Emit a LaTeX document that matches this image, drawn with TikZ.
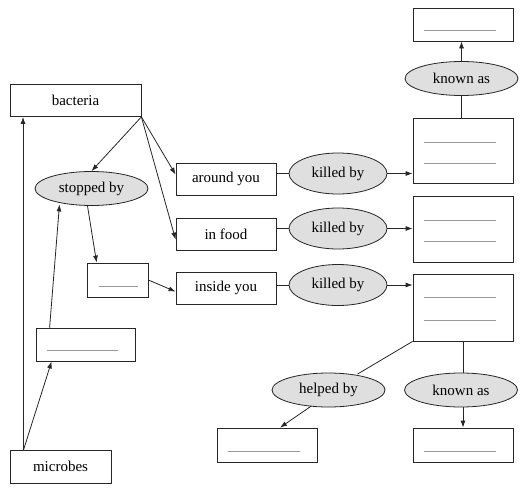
\documentclass[tikz,border=0pt]{standalone}
\usepackage{fontspec}
\setmainfont{Liberation Serif}
\usetikzlibrary{shapes.geometric,arrows.meta,calc}
\begin{document}
\begin{tikzpicture}[x=1pt,y=-1pt,
  font=\fontsize{15}{17}\selectfont,
  box/.style={draw=black!85,line width=0.8pt,rectangle,inner sep=0pt,minimum width=100pt,minimum height=33pt},
  oval/.style={draw=black!85,line width=0.8pt,ellipse,fill=gray!25,inner sep=0pt,minimum width=113pt,minimum height=34pt},
  conn/.style={line width=0.8pt,draw=black!85},
  arr/.style={conn,-{Latex[length=7pt,width=5pt]}},
  blank/.style={draw=gray!80,line width=0.7pt}]
\useasboundingbox (0,0) rectangle (528,488);
% nodes
\node[box,minimum width=131pt,minimum height=32pt] (bac) at (75.5,100.5) {bacteria};
\node[oval] (stop) at (91.5,188.5) {stopped by};
\node[box,minimum height=32pt] (around) at (226,179) {around you};
\node[box,minimum height=32pt] (food) at (226,234) {in food};
\node[box,minimum height=32pt] (inside) at (226,288) {inside you};
\node[oval,minimum width=98pt,minimum height=41pt] (k1) at (338,173.5) {killed by};
\node[oval,minimum width=98pt,minimum height=41pt] (k2) at (338,228.5) {killed by};
\node[oval,minimum width=98pt,minimum height=41pt] (k3) at (338,285) {killed by};
\node[box] (top) at (463,24.5) {};
\node[oval] (known1) at (461.5,78.5) {known as};
\node[box,minimum height=65pt] (big1) at (463,150.5) {};
\node[box,minimum height=66pt] (big2) at (463,229) {};
\node[box,minimum height=67pt] (big3) at (463,307.5) {};
\node[box,minimum width=61pt,minimum height=34pt] (small) at (117.5,280) {};
\node[box,minimum width=99pt,minimum height=33pt] (left) at (85.5,344.5) {};
\node[box,minimum width=101pt,minimum height=33pt] (mic) at (60.5,466.5) {microbes};
\node[oval] (help) at (328.5,390) {helped by};
\node[oval] (known2) at (461,390) {known as};
\node[box,minimum height=34pt] (bl) at (267,445) {};
\node[box,minimum height=34pt] (br) at (463,445) {};
% blank lines
\draw[blank] ($(top.north west)+(11,23)$) -- ($(top.north east)+(-17,23)$);
\draw[blank] ($(big1.north west)+(11,25)$) -- ($(big1.north east)+(-17,25)$);
\draw[blank] ($(big1.north west)+(11,46)$) -- ($(big1.north east)+(-17,46)$);
\draw[blank] ($(big2.north west)+(11,25)$) -- ($(big2.north east)+(-17,25)$);
\draw[blank] ($(big2.north west)+(11,46)$) -- ($(big2.north east)+(-17,46)$);
\draw[blank] ($(big3.north west)+(11,24)$) -- ($(big3.north east)+(-17,24)$);
\draw[blank] ($(big3.north west)+(11,47)$) -- ($(big3.north east)+(-17,47)$);
\draw[blank] ($(small.north west)+(12,24)$) -- ($(small.north east)+(-10,24)$);
\draw[blank] ($(left.north west)+(11,23)$) -- ($(left.north east)+(-17,23)$);
\draw[blank] ($(bl.north west)+(11,24)$) -- ($(bl.north east)+(-17,24)$);
\draw[blank] ($(br.north west)+(11,24)$) -- ($(br.north east)+(-17,24)$);
% connectors
\draw[arr] (bac.south east) -- (stop.north);
\draw[arr] (bac.south east) -- ($(around.north west)+(0,12)$);
\draw[arr] (bac.south east) -- ($(food.north west)+(0,22)$);
\draw[arr] ($(stop.south)+(-4,0)$) -- ($(small.north west)+(10,0)$);
\draw[arr] (small.east) -- ($(inside.north west)+(0,20)$);
\draw[arr] ($(left.north west)+(14,0)$) -- ($(stop.south)+(-32,-1.5)$);
\draw[arr] ($(mic.north west)+(14,0)$) -- ($(left.south west)+(16,0)$);
\draw[arr] (mic.north west -| 23,0) -- (bac.south west -| 23,0);
\draw[conn] (k1.west) -- (k1.west -| around.east);
\draw[conn] (k2.west) -- (k2.west -| food.east);
\draw[conn] (k3.west) -- (k3.west -| inside.east);
\draw[arr] (k1.east) -- (k1.east -| big1.west);
\draw[arr] (k2.east) -- (k2.east -| big2.west);
\draw[arr] (k3.east) -- (k3.east -| big3.west);
\draw[conn] (big1.north -| known1.south) -- (known1.south);
\draw[arr] (known1.north) -- (known1.north |- top.south);
\draw[conn] (big3.south west) -- ($(help.north)+(29,1.5)$);
\draw[arr] ($(help.south)+(-17,-1.5)$) -- ($(bl.north)+(13,0)$);
\draw[conn] (big3.south) -- (known2.north -| big3.south);
\draw[arr] (known2.south -| br.north) -- (br.north);
\end{tikzpicture}
\end{document}
